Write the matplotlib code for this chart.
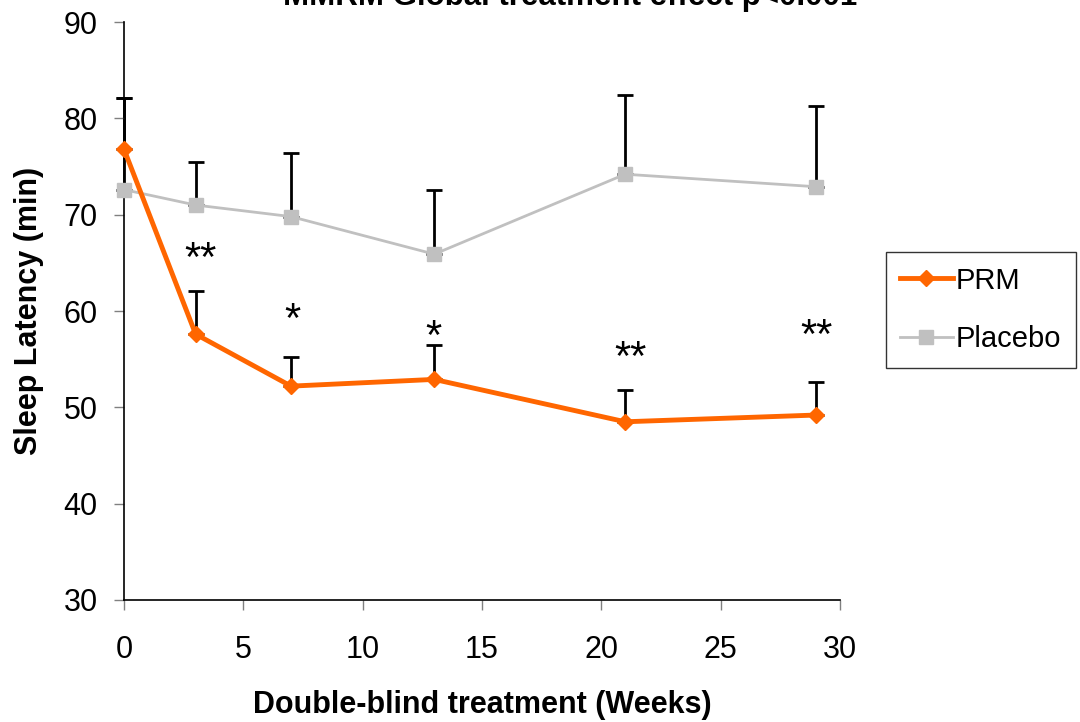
import numpy as np
from matplotlib import pyplot as plt

plt.rcParams['font.family'] = ['Liberation Sans', 'DejaVu Sans']

weeks = [0, 3, 7, 13, 21, 29]
prm = [76.8, 57.6, 52.2, 52.9, 48.5, 49.2]
prm_err = [5.3, 4.5, 3.0, 3.6, 3.3, 3.4]
placebo = [72.6, 71.0, 69.8, 65.9, 74.2, 72.9]
placebo_err = [9.5, 4.5, 6.6, 6.7, 8.2, 8.4]

star_x = [3.2, 7.05, 12.95, 21.2, 29.0]
star_y = [65.3, 59.0, 57.2, 55.0, 57.3]
star_txt = ['**', '*', '*', '**', '**']

fig = plt.figure(figsize=(10.8, 7.22), dpi=100)
ax = fig.add_axes([0.1148, 0.169, 0.663, 0.8005])

ax.errorbar(weeks, placebo, yerr=[np.zeros(6), placebo_err], fmt='none',
            ecolor='black', elinewidth=2, capsize=6, capthick=2, zorder=1,
            clip_on=False)
ax.errorbar(weeks, prm, yerr=[np.zeros(6), prm_err], fmt='none',
            ecolor='black', elinewidth=2, capsize=6, capthick=2, zorder=1,
            clip_on=False)
ax.plot(weeks, placebo, color='#C0C0C0', lw=2, marker='s', ms=10.5,
        label='Placebo', zorder=3, clip_on=False)
ax.plot(weeks, prm, color='#FF6600', lw=3.5, marker='D', ms=8,
        label='PRM', zorder=4, clip_on=False)

for sx, sy, st in zip(star_x, star_y, star_txt):
    ax.text(sx, sy, st, ha='center', va='center', fontsize=30)

ax.set_xlim(0, 30)
ax.set_ylim(30, 90)
ax.set_xticks([0, 5, 10, 15, 20, 25, 30])
ax.set_yticks([30, 40, 50, 60, 70, 80, 90])
ax.tick_params(axis='both', labelsize=22, direction='out', length=7,
               color='#808080', width=1)
ax.tick_params(axis='x', pad=18)
ax.tick_params(axis='y', pad=12)
ax.spines['top'].set_visible(False)
ax.spines['right'].set_visible(False)
ax.spines['left'].set_linewidth(1.2)
ax.spines['bottom'].set_linewidth(1.2)

ax.set_xlabel('Double-blind treatment (Weeks)', fontsize=22, fontweight='bold',
              labelpad=18)
ax.set_ylabel('Sleep Latency (min)', fontsize=22, fontweight='bold', labelpad=14)

# title sits mostly above the canvas, as in the original
fig.text(0.528, 0.993, 'MMRM Global treatment effect p<0.001', ha='center',
         va='baseline', fontsize=22.5, fontweight='bold')

h, l = ax.get_legend_handles_labels()
leg = fig.legend(h[::-1], l[::-1], loc='upper left',
                 bbox_to_anchor=(0.82, 0.651), borderaxespad=0, fontsize=21,
                 frameon=True, fancybox=False, edgecolor='black',
                 handlelength=1.8, handletextpad=0.1, labelspacing=1.06,
                 borderpad=0.5)
leg.get_frame().set_linewidth(1)

fig.savefig('out.png', dpi=100)
